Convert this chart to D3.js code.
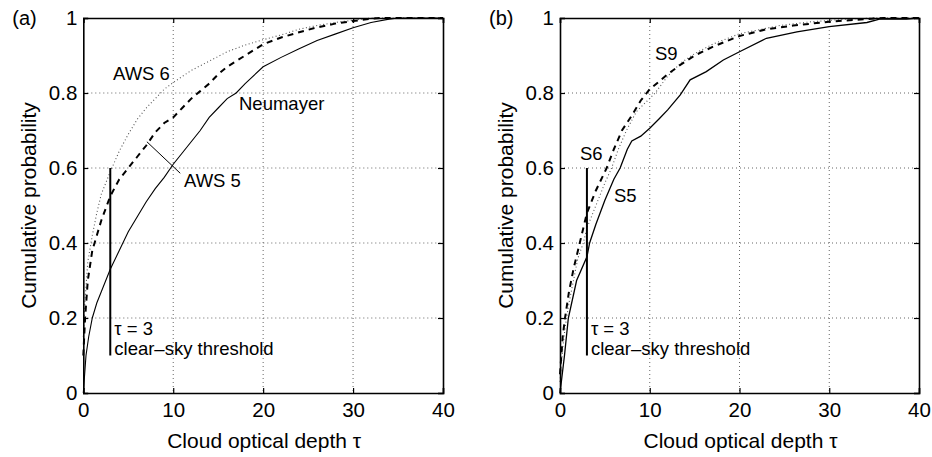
<!DOCTYPE html>
<html><head><meta charset="utf-8">
<script src="https://cdn.jsdelivr.net/npm/d3@7"></script>
<style>
body{margin:0;background:#fff;}
text{font-family:"Liberation Sans",Arial,Helvetica,sans-serif;fill:#000;}
</style></head>
<body><svg id="c" width="932" height="457"></svg>
<script>
// ---- data ----
const xTicks = [0, 10, 20, 30, 40];
const yTicks = [0, 0.2, 0.4, 0.6, 0.8, 1];
const yTickLabels = ["0", "0.2", "0.4", "0.6", "0.8", "1"];

// Panel (a)
const neumayerTau = [0, 0.3, 0.6, 1, 1.5, 2, 3, 4, 5, 6, 7, 8, 9, 10, 11, 12, 13, 14, 15, 16, 17, 18, 20, 22, 24, 26, 28, 30, 32, 34, 35, 40];
const neumayerP   = [0, 0.1, 0.15, 0.2, 0.24, 0.27, 0.33, 0.38, 0.43, 0.47, 0.51, 0.545, 0.575, 0.61, 0.64, 0.67, 0.70, 0.735, 0.76, 0.785, 0.80, 0.825, 0.87, 0.895, 0.918, 0.94, 0.957, 0.974, 0.988, 0.997, 1, 1];
const aws5Tau = [0, 0.2, 0.5, 1, 1.5, 2, 3, 4, 5, 6, 7, 8, 9, 10, 11, 12, 13, 14, 15, 16, 17, 18, 20, 22, 24, 26, 28, 30, 32, 33, 40];
const aws5P   = [0.1, 0.2, 0.3, 0.38, 0.42, 0.46, 0.525, 0.57, 0.6, 0.63, 0.66, 0.695, 0.72, 0.735, 0.76, 0.785, 0.805, 0.825, 0.85, 0.87, 0.885, 0.9, 0.93, 0.948, 0.962, 0.975, 0.985, 0.992, 0.998, 1, 1];
const aws6Tau = [0, 0.2, 0.5, 1, 1.5, 2, 3, 4, 5, 6, 7, 8, 9, 10, 12, 14, 16, 18, 20, 22, 24, 26, 28, 30, 32, 40];
const aws6P   = [0.15, 0.25, 0.35, 0.42, 0.48, 0.53, 0.59, 0.645, 0.69, 0.73, 0.76, 0.785, 0.81, 0.828, 0.86, 0.885, 0.91, 0.928, 0.942, 0.955, 0.97, 0.98, 0.988, 0.994, 1, 1];

// Panel (b)
const s5Tau = [0, 0.5, 0.93, 1.85, 3, 3.3, 4, 5, 6, 6.7, 7.5, 8, 9, 10, 11, 12, 13.4, 14.5, 16.3, 18.2, 20, 23, 26.4, 30, 34.2, 35.6, 38.6, 40];
const s5P   = [0, 0.1, 0.2, 0.3, 0.363, 0.4, 0.45, 0.514, 0.57, 0.6, 0.65, 0.672, 0.685, 0.706, 0.73, 0.755, 0.795, 0.835, 0.857, 0.888, 0.91, 0.946, 0.963, 0.977, 0.988, 0.997, 0.997, 1];
const s6Tau = [0, 0.3, 0.56, 1, 1.5, 2.2, 3, 4, 5.2, 6, 6.9, 8, 9, 10, 12, 13.4, 15, 17, 20, 23, 26, 30, 34, 36, 40];
const s6P   = [0.05, 0.15, 0.2, 0.27, 0.33, 0.4, 0.48, 0.54, 0.6, 0.65, 0.7, 0.74, 0.78, 0.81, 0.85, 0.875, 0.9, 0.923, 0.952, 0.97, 0.98, 0.99, 0.997, 1, 1];
const s9Tau = [0, 0.3, 0.6, 1, 1.5, 2, 2.6, 3, 4, 5, 5.75, 6.5, 7.4, 8.5, 10.6, 12, 13.4, 15, 17, 20, 24.5, 28, 32, 35, 40];
const s9P   = [0.03, 0.12, 0.18, 0.24, 0.3, 0.36, 0.4, 0.44, 0.5, 0.56, 0.6, 0.65, 0.7, 0.75, 0.8, 0.845, 0.879, 0.905, 0.93, 0.958, 0.98, 0.99, 0.997, 1, 1];

const thresholdTau = 3;
const thresholdRange = [0.1, 0.6];

// ---- drawing ----
const svg = d3.select("#c");
const plotTop = 18, plotBottom = 393;

function panel(opts) {
  const x = d3.scaleLinear().domain([0, 40]).range([opts.left, opts.right]);
  const y = d3.scaleLinear().domain([0, 1]).range([plotBottom, plotTop]);
  const g = svg.append("g");

  // grid
  g.append("g").selectAll("line").data(xTicks.slice(1, -1)).join("line")
    .attr("x1", d => x(d)).attr("x2", d => x(d)).attr("y1", plotTop).attr("y2", plotBottom)
    .attr("stroke", "#666").attr("stroke-width", 1).attr("stroke-dasharray", "1,3");
  g.append("g").selectAll("line").data(yTicks.slice(1, -1)).join("line")
    .attr("y1", d => y(d)).attr("y2", d => y(d)).attr("x1", opts.left).attr("x2", opts.right)
    .attr("stroke", "#666").attr("stroke-width", 1).attr("stroke-dasharray", "1,3");

  // curves
  const line = d3.line().x(d => x(d[0])).y(d => y(d[1]));
  opts.series.forEach(s => {
    const pts = s.tau.map((t, i) => [t, s.p[i]]);
    g.append("path").datum(pts).attr("d", line).attr("fill", "none")
      .attr("stroke", s.color || "#000").attr("stroke-width", s.width)
      .attr("stroke-dasharray", s.dash || null);
  });

  // threshold line
  g.append("line").attr("x1", x(thresholdTau)).attr("x2", x(thresholdTau))
    .attr("y1", y(thresholdRange[0])).attr("y2", y(thresholdRange[1]))
    .attr("stroke", "#000").attr("stroke-width", 2);
  g.append("text").attr("x", x(thresholdTau) + 4).attr("y", 335).attr("font-size", 18.5).text("τ = 3");
  g.append("text").attr("x", x(thresholdTau) + 4).attr("y", 355).attr("font-size", 18.5).text("clear–sky threshold");

  // axes (inside ticks, MATLAB style)
  const xb = d3.axisBottom(x).tickValues(xTicks).tickSize(-5).tickPadding(9).tickFormat(d3.format("d"));
  const xt = d3.axisTop(x).tickValues(xTicks).tickSize(-5).tickFormat("");
  const yl = d3.axisLeft(y).tickValues(yTicks).tickSize(-5).tickPadding(6).tickFormat((d, i) => yTickLabels[i]);
  const yr = d3.axisRight(y).tickValues(yTicks).tickSize(-5).tickFormat("");
  [[xb, `translate(0,${plotBottom})`], [xt, `translate(0,${plotTop})`], [yl, `translate(${opts.left},0)`], [yr, `translate(${opts.right},0)`]]
    .forEach(([ax, tr]) => {
      const a = g.append("g").attr("transform", tr).call(ax);
      a.select(".domain").attr("stroke", "#000").attr("stroke-width", 1.6);
      a.selectAll(".tick line").attr("stroke", "#000").attr("stroke-width", 1.2);
      a.selectAll(".tick text").attr("font-size", 20.5).attr("fill", "#000")
        .style("font-family", '"Liberation Sans",Arial,sans-serif');
    });

  // labels
  g.append("text").attr("x", (opts.left + opts.right) / 2 + 1).attr("y", 448).attr("text-anchor", "middle")
    .attr("font-size", 21).text("Cloud optical depth τ");
  g.append("text").attr("transform", `translate(${opts.left - 47},${(plotTop + plotBottom) / 2}) rotate(-90)`)
    .attr("text-anchor", "middle").attr("font-size", 21).text("Cumulative probability");
  g.append("text").attr("x", opts.left - 71).attr("y", 25).attr("font-size", 20).text(opts.tag);

  opts.notes.forEach(n => {
    g.append("text").attr("x", n.x).attr("y", n.y).attr("font-size", 18.5).text(n.t);
  });
  if (opts.pointer) {
    const p = opts.pointer;
    g.append("line").attr("x1", x(p[0])).attr("y1", y(p[1])).attr("x2", x(p[2])).attr("y2", y(p[3]))
      .attr("stroke", "#000").attr("stroke-width", 1);
  }
}

panel({
  left: 83.3, right: 443, tag: "(a)",
  series: [
    { tau: aws6Tau, p: aws6P, width: 1.1, dash: "1,2.5", color: "#555" },
    { tau: aws5Tau, p: aws5P, width: 2, dash: "6,5" },
    { tau: neumayerTau, p: neumayerP, width: 1.1 }
  ],
  notes: [
    { x: 113, y: 80, t: "AWS 6" },
    { x: 239, y: 110, t: "Neumayer" },
    { x: 184, y: 187, t: "AWS 5" }
  ],
  pointer: [7.07, 0.67, 10.78, 0.586]
});

panel({
  left: 560, right: 919, tag: "(b)",
  series: [
    { tau: s9Tau, p: s9P, width: 1.1, dash: "1,2.5", color: "#555" },
    { tau: s6Tau, p: s6P, width: 2, dash: "6,5" },
    { tau: s5Tau, p: s5P, width: 1.3 }
  ],
  notes: [
    { x: 655, y: 60, t: "S9" },
    { x: 580, y: 160, t: "S6" },
    { x: 614, y: 202, t: "S5" }
  ]
});
</script></body></html>
